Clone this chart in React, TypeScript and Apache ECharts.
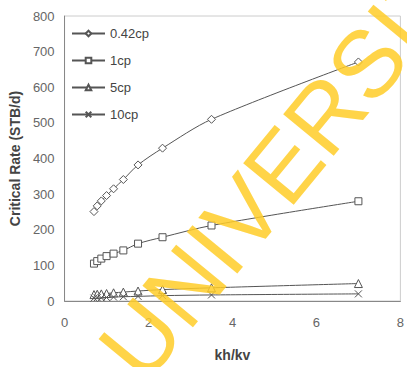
import React, { useEffect, useRef } from "react";
import * as echarts from "echarts";

const khkv = [0.7, 0.778, 0.875, 1.0, 1.167, 1.4, 1.75, 2.333, 3.5, 7.0];
const cp042 = [251, 267, 281, 296, 315, 341, 382, 429, 510, 671];
const cp1 = [105, 112, 119, 126, 133, 142, 161, 179, 212, 280];
const cp5 = [18, 19, 20, 21, 23, 25, 28, 32, 37, 49];
const cp10 = [8, 9, 9, 10, 11, 12, 13, 15, 17, 20];
const seriesNames = ["0.42cp", "1cp", "5cp", "10cp"];
const xTicks = { min: 0, max: 8, interval: 2 };
const yTicks = { min: 0, max: 800, interval: 100 };

const LINE = "#555";
const FONT = "Liberation Sans, Arial, sans-serif";

export default function App() {
  const ref = useRef<HTMLDivElement>(null);
  useEffect(() => {
    const chart = echarts.init(ref.current!, null, { renderer: "svg" });
    const mk = (name: string, data: number[], symbol: string, size: number) => ({
      name,
      type: "line",
      data: khkv.map((x, i) => [x, data[i]]),
      smooth: 0.3,
      symbol,
      symbolSize: size,
      showAllSymbol: true,
      lineStyle: { color: LINE, width: 1 },
      itemStyle: { color: "#fff", borderColor: LINE, borderWidth: 1 },
    });
    chart.setOption({
      animation: false,
      backgroundColor: "#fff",
      textStyle: { fontFamily: FONT },
      grid: { left: 62, top: 16, right: 3, bottom: 64, show: true, borderColor: "#ccc", borderWidth: 1 },
      legend: {
        orient: "vertical",
        left: 66,
        top: 22,
        itemWidth: 33,
        itemHeight: 7,
        itemGap: 14,
        data: seriesNames,
        textStyle: { fontSize: 13, color: "#444", fontFamily: FONT },
      },
      xAxis: {
        type: "value",
        ...xTicks,
        name: "kh/kv",
        nameLocation: "middle",
        nameGap: 47,
        nameTextStyle: { fontSize: 14, fontWeight: "bold", color: "#444", fontFamily: FONT },
        axisLine: { lineStyle: { color: "#888" } },
        axisTick: { show: false },
        splitLine: { show: false },
        axisLabel: { fontSize: 13, color: "#666", margin: 15, fontFamily: FONT },
      },
      yAxis: {
        type: "value",
        ...yTicks,
        name: "Critical Rate (STB/d)",
        nameLocation: "middle",
        nameGap: 40,
        nameTextStyle: { fontSize: 14, fontWeight: "bold", color: "#444", fontFamily: FONT },
        axisLine: { show: true, lineStyle: { color: "#888" } },
        axisTick: { show: false },
        splitLine: { show: false },
        axisLabel: { fontSize: 13, color: "#666", margin: 10, fontFamily: FONT },
      },
      series: [
        mk(seriesNames[0], cp042, "diamond", 8),
        mk(seriesNames[1], cp1, "rect", 7),
        mk(seriesNames[2], cp5, "triangle", 8),
        mk(seriesNames[3], cp10, "path://M0,0L10,10M10,0L0,10", 7),
      ],
      graphic: [
        {
          type: "text",
          x: 300,
          y: 145,
          rotation: (50.6 * Math.PI) / 180,
          z: 100,
          silent: true,
          style: {
            text: "UNIVERSITY",
            font: "95px Liberation Sans, Arial, sans-serif",
            fill: "rgba(255,205,40,0.85)",
            textAlign: "center",
            textVerticalAlign: "middle",
          },
        },
      ],
    });
    return () => chart.dispose();
  }, []);
  return <div ref={ref} style={{ width: 407, height: 367, position: "absolute", left: 0, top: 0 }} />;
}
